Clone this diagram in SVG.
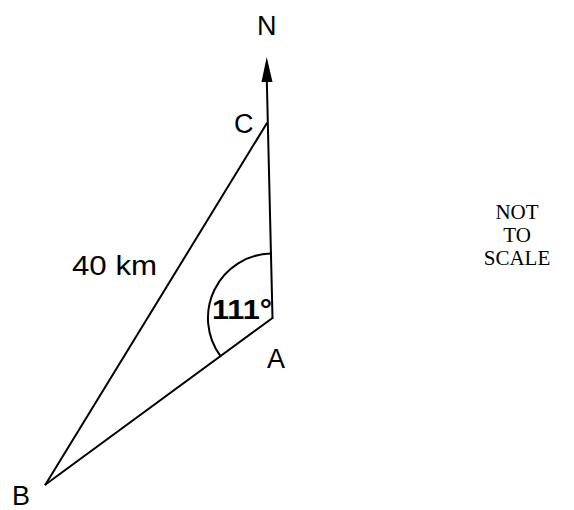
<svg xmlns="http://www.w3.org/2000/svg" width="574" height="510" viewBox="0 0 574 510">
<style>
.lbl{font-family:"Liberation Sans",Arial,sans-serif;font-size:27px;fill:#000}
.note{font-family:"Liberation Serif","Times New Roman",serif;font-size:21px;fill:#000;text-anchor:middle}
.ln{stroke:#000;stroke-width:2;fill:none;stroke-linecap:round;stroke-linejoin:round}
</style>
<rect width="574" height="510" fill="#fff"/>
<g id="connectors">
<path id="north" class="ln" d="M272.5 318 L266.8 80"/>
<path d="M266.7 57 L272.5 82 L261.5 82 Z" fill="#000"/>
<path id="BC" class="ln" d="M45.5 484.5 L267 123"/>
<path id="AB" class="ln" d="M272.5 318 L45.5 484.5"/>
<path id="angle" class="ln" d="M271.1 253.5 A64.5 64.5 0 0 0 220.5 356.2"/>
</g>
<g id="N"><text class="lbl" x="257" y="35">N</text></g>
<g id="C"><text class="lbl" x="234" y="133">C</text></g>
<g id="A"><text class="lbl" x="267" y="368">A</text></g>
<g id="B"><text class="lbl" x="12" y="505">B</text></g>
<g id="side"><text class="lbl" x="72" y="275" textLength="85" lengthAdjust="spacingAndGlyphs">40 km</text></g>
<g id="angleLabel"><text class="lbl" x="212" y="319" font-size="30" font-weight="bold" textLength="60" lengthAdjust="spacingAndGlyphs">111°</text></g>
<g id="note">
<text class="note" x="517" y="219">NOT</text>
<text class="note" x="517" y="242">TO</text>
<text class="note" x="517" y="265">SCALE</text>
</g>
</svg>
